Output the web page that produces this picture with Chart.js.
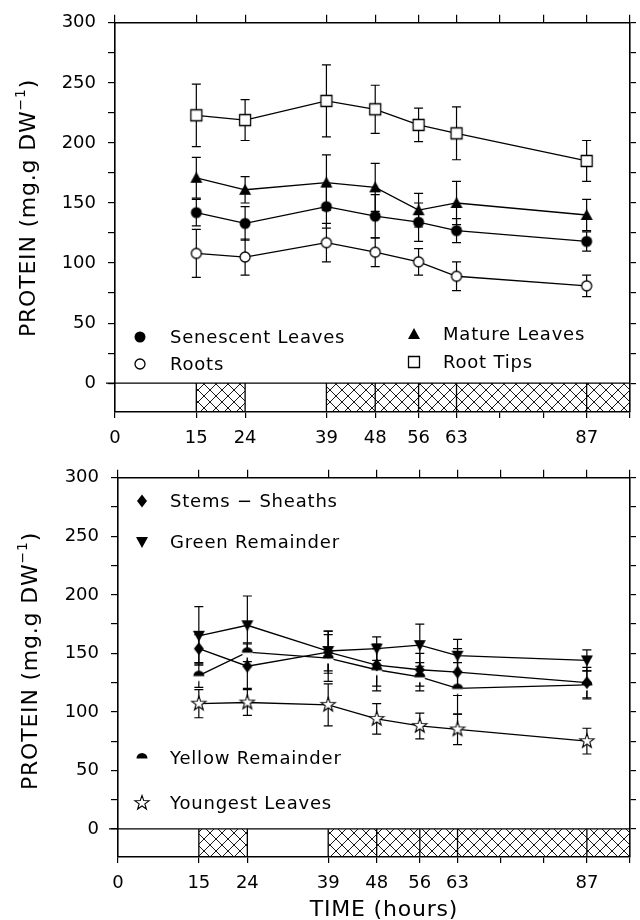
<!DOCTYPE html>
<html>
<head>
<meta charset="utf-8">
<script src="https://cdn.jsdelivr.net/npm/chart.js@4.4.1/dist/chart.umd.min.js"></script>
<style>
  body { margin: 0; background: #fff; }
  #wrap { position: relative; width: 640px; height: 920px; }
  canvas { position: absolute; left: 0; }
  #c1 { top: 0; }
  #c2 { top: 455px; }
</style>
</head>
<body>
<div id="wrap">
  <canvas id="c1" width="640" height="460"></canvas>
  <canvas id="c2" width="640" height="465"></canvas>
</div>
<script>
// -------------------------
// Data
// -------------------------
const times = [15, 24, 39, 48, 56, 63, 87];

// top panel
const senescent    = [142, 133, 147, 139, 134, 127, 118];
const senescentErr = [11, 14, 18, 18, 16, 10, 8];
const roots        = [108, 105, 117, 109, 101, 89, 81];
const rootsErr     = [20, 15, 16, 12, 11, 12, 9];
const mature       = [171, 161, 167, 163, 144, 150, 140];
const matureErr    = [17, 11, 23, 20, 14, 18, 13];
const rootTips     = [223, 219, 235, 228, 215, 208, 185];
const rootTipsErr  = [26, 17, 30, 20, 14, 22, 17];

// bottom panel
const stems        = [154, 139, 151, 140, 136, 134, 125];
const stemsErr     = [12, 19, 18, 18, 14, 20, 13];
const green        = [165, 174, 152, 154, 157, 148, 144];
const greenErr     = [25, 25, 17, 10, 18, 14, 9];
const yellow       = [131, 151, 146, 136, 130, 120, 123];
const yellowErr    = [10, 8, 20, 18, 12, 22, 12];
const youngest     = [107, 108, 106, 94, 88, 85, 75];
const youngestErr  = [12, 11, 18, 13, 11, 13, 11];

// axes
const xTicks = [0, 15, 24, 39, 48, 56, 63, 71, 79, 87, 95];
const xLabels = [0, 15, 24, 39, 48, 56, 63, 87];
const yTicks = [0, 25, 50, 75, 100, 125, 150, 175, 200, 225, 250, 275, 300];
const yLabels = [0, 50, 100, 150, 200, 250, 300];
const xMin = 0, xMax = 95, yMin = -24, yMax = 300;

// dark periods (hatched band under y = 0)
const darkPeriods = [[15, 24], [39, 95]];
const bandLines = [15, 24, 39, 48, 56, 63, 87];

// -------------------------
// Markers
// -------------------------
function makeMarker(kind) {
  const c = document.createElement("canvas");
  c.width = 18; c.height = 18;
  const g = c.getContext("2d");
  g.translate(9, 9);
  g.lineWidth = 1.3;
  g.strokeStyle = "#000";
  g.fillStyle = "#000";
  g.beginPath();
  if (kind === "dot") {
    g.arc(0, 0, 5.5, 0, Math.PI * 2);
    g.fill();
  } else if (kind === "ring") {
    g.arc(0, 0, 5, 0, Math.PI * 2);
    g.fillStyle = "#fff"; g.fill(); g.stroke();
  } else if (kind === "tri") {
    g.moveTo(0, -6); g.lineTo(6, 5); g.lineTo(-6, 5); g.closePath();
    g.fill();
  } else if (kind === "square") {
    g.rect(-5.5, -5.5, 11, 11);
    g.fillStyle = "#fff"; g.fill(); g.stroke();
  } else if (kind === "diamond") {
    g.moveTo(0, -6.5); g.lineTo(5, 0); g.lineTo(0, 6.5); g.lineTo(-5, 0); g.closePath();
    g.fill();
  } else if (kind === "down") {
    g.moveTo(-6, -5); g.lineTo(6, -5); g.lineTo(0, 6); g.closePath();
    g.fill();
  } else if (kind === "half") {
    g.arc(0, 0, 5.5, 0, Math.PI);
    g.fillStyle = "#fff"; g.fill();
    g.beginPath();
    g.arc(0, 0.5, 5.5, Math.PI, Math.PI * 2);
    g.closePath();
    g.fillStyle = "#000"; g.fill();
  } else if (kind === "star") {
    for (let i = 0; i < 10; i++) {
      const r = i % 2 ? 3 : 7.5;
      const a = -Math.PI / 2 + i * Math.PI / 5;
      const px = r * Math.cos(a), py = r * Math.sin(a);
      if (i === 0) g.moveTo(px, py); else g.lineTo(px, py);
    }
    g.closePath();
    g.lineWidth = 1.1;
    g.fillStyle = "#fff"; g.fill(); g.stroke();
  }
  return c;
}

function hatchPattern(ctx) {
  const c = document.createElement("canvas");
  c.width = 12; c.height = 12;
  const g = c.getContext("2d");
  g.strokeStyle = "#000";
  g.lineWidth = 0.9;
  g.beginPath();
  g.moveTo(0, 0); g.lineTo(12, 12);
  g.moveTo(12, 0); g.lineTo(0, 12);
  g.stroke();
  return ctx.createPattern(c, "repeat");
}

function serie(label, values, errs, kind) {
  return {
    label: label,
    data: times.map((t, i) => ({ x: t, y: values[i] })),
    errors: errs,
    marker: kind,
    pointStyle: makeMarker(kind),
    pointRadius: 6,
    borderColor: "#000",
    borderWidth: 1.3,
    backgroundColor: "#000",
    fill: false,
    tension: 0
  };
}

// -------------------------
// Plugin: band, error bars, titles, legend
// -------------------------
const TXT_FONT = "DejaVu Sans, Liberation Sans, sans-serif";

const extras = {
  id: "extras",
  beforeDatasetsDraw(chart, args, opts) {
    const { ctx, chartArea } = chart;
    const x = chart.scales.x, y = chart.scales.y;
    const y0 = y.getPixelForValue(0);
    const y1 = y.getPixelForValue(yMin);
    ctx.save();
    ctx.fillStyle = hatchPattern(ctx);
    darkPeriods.forEach(([a, b]) => {
      const xa = x.getPixelForValue(a), xb = x.getPixelForValue(b);
      ctx.fillRect(xa, y0, xb - xa, y1 - y0);
    });
    ctx.strokeStyle = "#000";
    ctx.lineWidth = 1.3;
    ctx.beginPath();
    bandLines.forEach(t => {
      const px = x.getPixelForValue(t);
      ctx.moveTo(px, y0); ctx.lineTo(px, y1);
    });
    ctx.moveTo(chartArea.left - 9, y0);
    ctx.lineTo(chartArea.right, y0);
    ctx.stroke();

    // error bars
    ctx.lineWidth = 1.2;
    chart.data.datasets.forEach(ds => {
      ds.data.forEach((p, i) => {
        const e = ds.errors[i];
        const px = x.getPixelForValue(p.x);
        const top = y.getPixelForValue(p.y + e);
        const bot = y.getPixelForValue(p.y - e);
        ctx.beginPath();
        ctx.moveTo(px, top); ctx.lineTo(px, bot);
        ctx.moveTo(px - 4.5, top); ctx.lineTo(px + 4.5, top);
        ctx.moveTo(px - 4.5, bot); ctx.lineTo(px + 4.5, bot);
        ctx.stroke();
      });
    });
    ctx.restore();
  },
  afterDraw(chart, args, opts) {
    const { ctx } = chart;
    ctx.save();
    ctx.fillStyle = "#000";
    ctx.textBaseline = "middle";
    if ("letterSpacing" in ctx) ctx.letterSpacing = "0.8px";

    // y title, rotated, with superscript
    const big = "22px " + TXT_FONT, small = "14px " + TXT_FONT;
    const p1 = "PROTEIN (mg.g DW", p2 = "\u22121", p3 = ")";
    ctx.font = big;
    const w1 = ctx.measureText(p1).width, w3 = ctx.measureText(p3).width;
    ctx.font = small;
    const w2 = ctx.measureText(p2).width;
    const total = w1 + w2 + w3;
    ctx.translate(opts.yTitleX, opts.yTitleY);
    ctx.rotate(-Math.PI / 2);
    ctx.textAlign = "left";
    let sx = -total / 2;
    ctx.font = big; ctx.fillText(p1, sx, 0); sx += w1;
    ctx.font = small; ctx.fillText(p2, sx, -8); sx += w2;
    ctx.font = big; ctx.fillText(p3, sx, 0);
    ctx.setTransform(1, 0, 0, 1, 0, 0);

    // x title
    if (opts.xTitle) {
      ctx.font = big;
      ctx.textAlign = "center";
      ctx.fillText(opts.xTitle, opts.xTitleX, opts.xTitleY);
    }

    // legend
    ctx.font = "18px " + TXT_FONT;
    ctx.textAlign = "left";
    opts.legend.forEach(item => {
      const ds = chart.data.datasets[item.index];
      const img = ds.pointStyle;
      ctx.drawImage(img, item.mx - img.width / 2, item.y - img.height / 2);
      ctx.fillText(ds.label, item.tx, item.y + 1);
    });
    ctx.restore();
  }
};

// -------------------------
// Options
// -------------------------
function axisOptions(leftWidth, bottomHeight) {
  const tickFont = { family: TXT_FONT, size: 18 };
  return {
    x: {
      type: "linear", position: "bottom", min: xMin, max: xMax,
      afterBuildTicks: s => { s.ticks = xTicks.map(v => ({ value: v })); },
      afterFit: s => { s.height = bottomHeight; },
      ticks: {
        autoSkip: false, maxRotation: 0, color: "#000", font: tickFont, padding: 10,
        callback: v => xLabels.includes(v) ? String(v) : ""
      },
      grid: { drawOnChartArea: false, tickLength: 6, color: "#000", lineWidth: 1.2 },
      border: { display: true, color: "#000", width: 1.6 }
    },
    x2: {
      type: "linear", position: "top", min: xMin, max: xMax,
      afterBuildTicks: s => { s.ticks = xTicks.map(v => ({ value: v })); },
      afterFit: s => { s.height = 8; },
      ticks: { display: false },
      grid: { drawOnChartArea: false, tickLength: 8, color: "#000", lineWidth: 1.2 },
      border: { display: true, color: "#000", width: 1.6 }
    },
    y: {
      type: "linear", position: "left", min: yMin, max: yMax,
      afterBuildTicks: s => { s.ticks = yTicks.map(v => ({ value: v })); },
      afterFit: s => { s.width = leftWidth; },
      ticks: {
        color: "#000", font: tickFont, padding: 12,
        callback: v => yLabels.includes(v) ? String(v) : ""
      },
      grid: { drawOnChartArea: false, tickLength: 7, color: "#000", lineWidth: 1.2 },
      border: { display: true, color: "#000", width: 1.6 }
    },
    y2: {
      type: "linear", position: "right", min: yMin, max: yMax,
      afterBuildTicks: s => { s.ticks = yTicks.map(v => ({ value: v })); },
      afterFit: s => { s.width = 6; },
      ticks: { display: false },
      grid: { drawOnChartArea: false, tickLength: 6, color: "#000", lineWidth: 1.2 },
      border: { display: true, color: "#000", width: 1.6 }
    }
  };
}

// -------------------------
// Charts
// -------------------------
new Chart(document.getElementById("c1"), {
  type: "line",
  data: {
    datasets: [
      serie("Senescent Leaves", senescent, senescentErr, "dot"),
      serie("Roots", roots, rootsErr, "ring"),
      serie("Mature Leaves", mature, matureErr, "tri"),
      serie("Root Tips", rootTips, rootTipsErr, "square")
    ]
  },
  options: {
    responsive: false,
    animation: false,
    events: [],
    layout: { padding: { top: 14, right: 1, left: 0, bottom: 0 } },
    scales: axisOptions(115, 48),
    plugins: {
      legend: { display: false },
      tooltip: { enabled: false },
      extras: {
        yTitleX: 29, yTitleY: 208,
        legend: [
          { index: 0, mx: 140, tx: 170, y: 337 },
          { index: 1, mx: 140, tx: 170, y: 364 },
          { index: 2, mx: 414, tx: 443, y: 334 },
          { index: 3, mx: 414, tx: 443, y: 362 }
        ]
      }
    }
  },
  plugins: [extras]
});

new Chart(document.getElementById("c2"), {
  type: "line",
  data: {
    datasets: [
      serie("Stems \u2212 Sheaths", stems, stemsErr, "diamond"),
      serie("Green Remainder", green, greenErr, "down"),
      serie("Yellow Remainder", yellow, yellowErr, "half"),
      serie("Youngest Leaves", youngest, youngestErr, "star")
    ]
  },
  options: {
    responsive: false,
    animation: false,
    events: [],
    layout: { padding: { top: 4, right: 0, left: 0, bottom: 0 } },
    scales: axisOptions(118, 63),
    plugins: {
      legend: { display: false },
      tooltip: { enabled: false },
      extras: {
        yTitleX: 31, yTitleY: 206,
        xTitle: "TIME (hours)", xTitleX: 384, xTitleY: 455,
        legend: [
          { index: 0, mx: 142, tx: 170, y: 46 },
          { index: 1, mx: 142, tx: 170, y: 87 },
          { index: 2, mx: 142, tx: 170, y: 303 },
          { index: 3, mx: 142, tx: 170, y: 348 }
        ]
      }
    }
  },
  plugins: [extras]
});
</script>
</body>
</html>
